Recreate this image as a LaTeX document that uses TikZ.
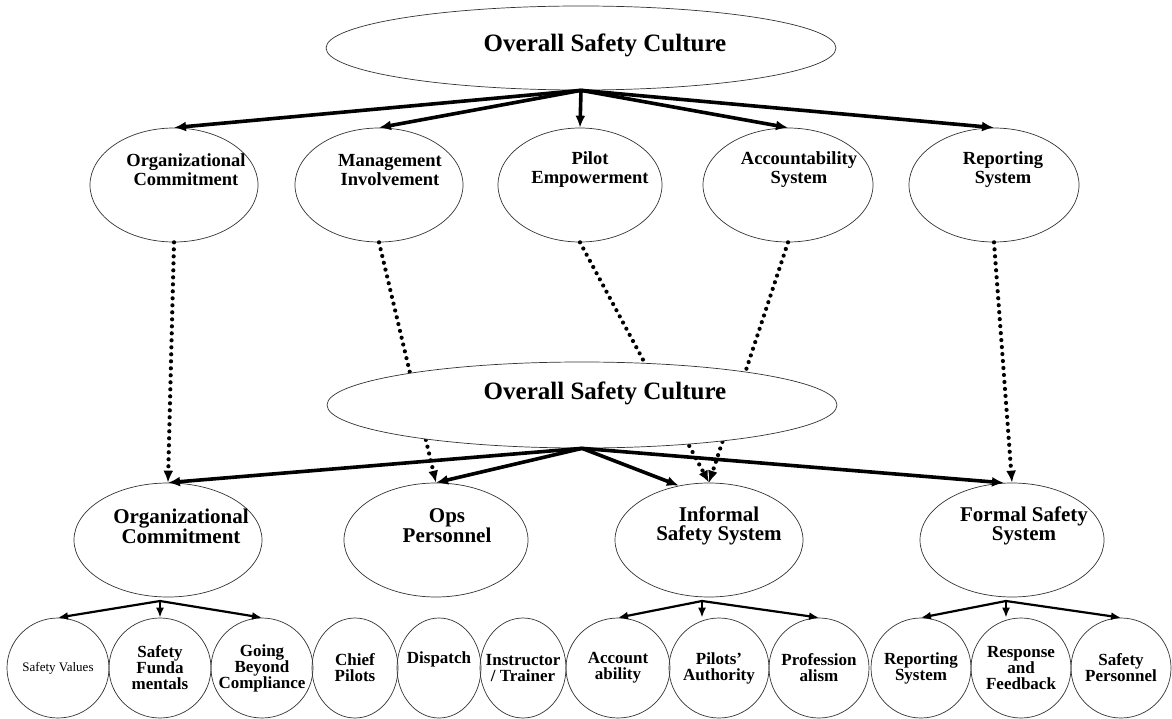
\documentclass[tikz,border=0pt]{standalone}
\usepackage{fontspec}
\setmainfont{Liberation Serif}
\usetikzlibrary{arrows.meta,shapes.geometric}

\begin{document}
\begin{tikzpicture}[x=1pt,y=-1pt,>={Latex[length=12pt,width=10pt]},
	bubble/.style={ellipse,draw=black!80,line width=0.7pt,inner sep=0pt},
	leaf/.style={bubble,minimum height=100pt,inner xsep=-40pt,align=center,
		font=\bfseries\fontsize{17}{16}\selectfont},
	lbl/.style={align=center,inner sep=0pt,font=\bfseries\fontsize{18.5}{19}\selectfont},
	lblB/.style={align=center,inner sep=0pt,font=\bfseries\fontsize{21}{19}\selectfont},
	headline/.style={inner sep=0pt,font=\bfseries\fontsize{25}{27}\selectfont},
	fat/.style={->,line width=3.6pt},
	twig/.style={-{Latex[length=10pt,width=8pt]},line width=2.2pt},
	dotline/.style={->,line width=4.2pt,line cap=round,dash pattern=on 0pt off 7pt}]
	\useasboundingbox (0,0) rectangle (1172,719);

	% top level
	\node[bubble,minimum width=510pt,minimum height=84pt] (top) at (581,48) {};
	\node[headline] (toptxt) at (605,45) {Overall Safety Culture};

	% second row
	\node[bubble,minimum width=168pt,minimum height=114pt] (orgA) at (174,185) {};
	\node[bubble,minimum width=168pt,minimum height=114pt] (mgtA) at (379,185) {};
	\node[bubble,minimum width=164pt,minimum height=114pt] (pilA) at (580,185) {};
	\node[bubble,minimum width=170pt,minimum height=114pt] (accA) at (788,185) {};
	\node[bubble,minimum width=170pt,minimum height=114pt] (repA) at (994,185) {};
	\node[lbl] (orgAtxt) at (186,170) {Organizational\\Commitment};
	\node[lbl] (mgtAtxt) at (390,170) {Management\\Involvement};
	\node[lbl] (pilAtxt) at (590,170) {Pilot\\Empowerment};
	\node[lbl] (accAtxt) at (799,170) {Accountability\\System};
	\node[lbl] (repAtxt) at (1003,170) {Reporting\\System};

	% third row
	\node[bubble,minimum width=188pt,minimum height=114pt] (orgB) at (168,540) {};
	\node[bubble,minimum width=184pt,minimum height=114pt] (opsB) at (436,540) {};
	\node[bubble,minimum width=188pt,minimum height=114pt] (infB) at (709,540) {};
	\node[bubble,minimum width=184pt,minimum height=114pt] (forB) at (1012,540) {};
	\node[lblB] (orgBtxt) at (181,526) {Organizational\\Commitment};
	\node[lblB] (opsBtxt) at (447,526) {Ops\\Personnel};
	\node[lblB] (infBtxt) at (719,526) {Informal\\Safety System};
	\node[lblB] (forBtxt) at (1024,526) {Formal Safety\\System};

	% bottom row
	\node[leaf,minimum width=102pt,font=\fontsize{13}{14}\selectfont] (c1) at (58,668) {Safety Values};
	\node[leaf,minimum width=102pt] (c2) at (160,668) {Safety\\Funda\\mentals};
	\node[leaf,minimum width=102pt] (c3) at (262,668) {Going\\Beyond\\Compliance};
	\node[leaf,minimum width=86pt] (c4) at (355,668) {Chief\\Pilots};
	\node[leaf,minimum width=84pt,text depth=20pt] (c5) at (439,668) {Dispatch};
	\node[leaf,minimum width=86pt] (c6) at (523,668) {Instructor\\/ Trainer};
	\node[leaf,minimum width=104pt] (c7) at (618,668) {Account\\ability};
	\node[leaf,minimum width=100pt] (c8) at (719,668) {Pilots'\\Authority};
	\node[leaf,minimum width=100pt] (c9) at (819,668) {Profession\\alism};
	\node[leaf,minimum width=100pt] (c10) at (921,668) {Reporting\\System};
	\node[leaf,minimum width=100pt] (c11) at (1021,668) {Response\\and\\Feedback};
	\node[leaf,minimum width=100pt] (c12) at (1121,668) {Safety\\Personnel};

	% dotted links, partly behind the middle oval
	\draw[dotline] (orgA.south) -- (orgB.north);
	\draw[dotline] (mgtA.south) -- (opsB.north);
	\draw[dotline] (pilA.south) -- (infB.north);
	\draw[dotline] (accA.south) -- (infB.north);
	\draw[dotline] (repA.south) -- (forB.north);

	% middle level
	\node[bubble,fill=white,minimum width=510pt,minimum height=86pt] (mid) at (582,405) {};
	\node[headline] (midtxt) at (605,393) {Overall Safety Culture};

	\draw[fat] (top.south) -- (orgA.north);
	\draw[fat] (top.south) -- (mgtA.north);
	\draw[fat] (top.south) -- (pilA.north);
	\draw[fat] (top.south) -- (accA.north);
	\draw[fat] (top.south) -- (repA.north);

	\draw[fat] (mid.south) -- (orgB.north);
	\draw[fat] (mid.south) -- (opsB.north);
	\draw[fat] (mid.south) -- (infB.119);
	\draw[fat] (mid.south) -- (forB.98);

	% forks to the bottom row
	\coordinate (orgfork) at (160,601);
	\coordinate (inffork) at (702,601);
	\coordinate (forfork) at (1006,601);
	\draw[twig] (orgfork) -- (c1.north);
	\draw[twig] (orgfork) -- (orgfork |- c2.north);
	\draw[twig] (orgfork) -- (c3.north);
	\draw[twig] (inffork) -- (c7.north);
	\draw[twig] (inffork) -- (inffork |- c8.north);
	\draw[twig] (inffork) -- (c9.north);
	\draw[twig] (forfork) -- (c10.north);
	\draw[twig] (forfork) -- (forfork |- c11.north);
	\draw[twig] (forfork) -- (c12.north);
\end{tikzpicture}
\end{document}
